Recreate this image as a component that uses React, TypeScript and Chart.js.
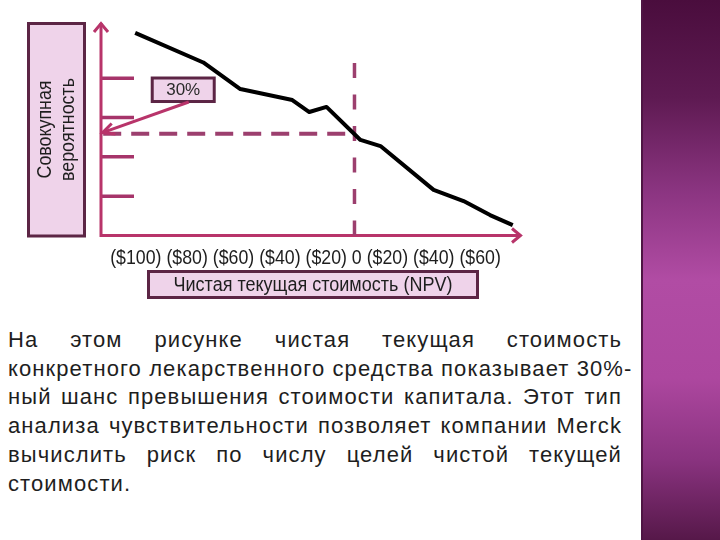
import { useEffect, useRef } from "react";
import { Chart, registerables } from "chart.js";

Chart.register(...registerables);

// ---- data ----
const npvTickLabels = ["($100)", "($80)", "($60)", "($40)", "($20)", "0", "($20)", "($40)", "($60)"];
const curveNpv = [-99.5, -68.6, -51.8, -28.2, -20.5, -12.7, 2.7, 11.8, 35.9, 49.5, 61.5, 71.8];
const curveProb = [103.1, 88.0, 74.5, 68.9, 62.8, 65.4, 48.6, 45.5, 23.2, 17.5, 10.4, 5.3];
const probTicks = [20, 40, 60, 80];
const hDashNpv = [-114, 0];
const hDashProb = [51.7, 51.7];
const vDashNpv = [0, 0];
const vDashProb = [0, 90.8];
const calloutFrom = [-75.2, 67.9];
const calloutTo = [-114.3, 52.3];
const calloutLabel = "30%";
const yTitleLines = ["Совокупная", "вероятность"];
const xTitle = "Чистая текущая стоимость (NPV)";
const paragraphLines = [
  "На этом рисунке чистая текущая стоимость",
  "конкретного лекарственного средства показывает 30%-",
  "ный шанс превышения стоимости капитала. Этот тип",
  "анализа чувствительности позволяет компании Merck",
  "вычислить риск по числу целей чистой текущей",
  "стоимости.",
];

const FONT = '"Liberation Sans", Arial, sans-serif';
const AXIS = "#b8346a";
const TICK = "#a6346a";
const DASH = "#9c3f6e";
const BOX_BORDER = "#5c2545";
const BOX_FILL = "#efd3ea";
const TEXT = "#1e1e1e";

function fitFont(ctx: CanvasRenderingContext2D, text: string, base: number, target: number) {
  ctx.font = `${base}px ${FONT}`;
  const w = ctx.measureText(text).width;
  return (base * target) / w;
}

function box(ctx: CanvasRenderingContext2D, x: number, y: number, w: number, h: number) {
  ctx.fillStyle = BOX_FILL;
  ctx.fillRect(x, y, w, h);
  ctx.strokeStyle = BOX_BORDER;
  ctx.lineWidth = 3;
  ctx.strokeRect(x, y, w, h);
}

function stretchedText(ctx: CanvasRenderingContext2D, text: string, cx: number, cy: number, sy: number) {
  ctx.save();
  ctx.translate(cx, cy);
  ctx.scale(1, sy);
  ctx.fillText(text, 0, 0);
  ctx.restore();
}

const decorPlugin = {
  id: "decor",
  beforeDatasetsDraw(chart: any) {
    const { ctx, chartArea: a, scales } = chart;
    const x = scales.x;
    const y = scales.y;
    ctx.save();

    // y title box
    box(ctx, 28.5, 23.5, 56, 212.5);
    ctx.fillStyle = TEXT;
    ctx.textAlign = "center";
    ctx.textBaseline = "middle";
    ctx.save();
    ctx.translate(56.5, 129.5);
    ctx.rotate(-Math.PI / 2);
    const fs = fitFont(ctx, yTitleLines[1], 16, 103);
    ctx.font = `${fs}px ${FONT}`;
    stretchedText(ctx, yTitleLines[0], 0, -11.5, 1.12);
    stretchedText(ctx, yTitleLines[1], 0, 11.5, 1.12);
    ctx.restore();

    // y tick marks
    ctx.strokeStyle = TICK;
    ctx.lineWidth = 3.5;
    ctx.lineCap = "butt";
    for (const v of probTicks) {
      const py = y.getPixelForValue(v);
      ctx.beginPath();
      ctx.moveTo(a.left, py);
      ctx.lineTo(a.left + 33, py);
      ctx.stroke();
    }

    // axes with arrows
    const x0 = x.getPixelForValue(x.min);
    const x1 = x.getPixelForValue(x.max);
    const y0 = y.getPixelForValue(y.min);
    const y1 = y.getPixelForValue(y.max);
    ctx.strokeStyle = AXIS;
    ctx.lineWidth = 3;
    ctx.beginPath();
    ctx.moveTo(x0, y0 + 1.5);
    ctx.lineTo(x0, y1 + 1);
    ctx.moveTo(x0 - 1.5, y0);
    ctx.lineTo(x1 - 1, y0);
    ctx.stroke();
    ctx.lineJoin = "miter";
    ctx.beginPath();
    ctx.moveTo(x0 - 7, y1 + 10);
    ctx.lineTo(x0, y1 + 1.5);
    ctx.lineTo(x0 + 7, y1 + 10);
    ctx.moveTo(x1 - 10, y0 - 7);
    ctx.lineTo(x1 - 1.5, y0);
    ctx.lineTo(x1 - 10, y0 + 7);
    ctx.stroke();

    // x tick labels line
    const line = npvTickLabels.join(" ");
    const lf = fitFont(ctx, line, 17, 391);
    ctx.font = `${lf}px ${FONT}`;
    ctx.fillStyle = TEXT;
    ctx.textAlign = "center";
    ctx.textBaseline = "alphabetic";
    stretchedText(ctx, line, 305.5, 263.5, 1.18);

    // x title box
    box(ctx, 148.5, 271.5, 329, 26);
    const tf = fitFont(ctx, xTitle, 16, 279);
    ctx.font = `${tf}px ${FONT}`;
    ctx.fillStyle = TEXT;
    ctx.textBaseline = "middle";
    stretchedText(ctx, xTitle, 313, 285, 1.15);

    ctx.restore();
  },
  afterDatasetsDraw(chart: any) {
    const { ctx, scales } = chart;
    const x = scales.x;
    const y = scales.y;
    ctx.save();
    const fx = x.getPixelForValue(calloutFrom[0]);
    const fy = y.getPixelForValue(calloutFrom[1]);
    const tx = x.getPixelForValue(calloutTo[0]);
    const ty = y.getPixelForValue(calloutTo[1]);
    // callout box
    box(ctx, fx - 36.5, fy - 24, 62, 23.5);
    ctx.font = `17px ${FONT}`;
    ctx.fillStyle = "#2a2a2a";
    ctx.textAlign = "center";
    ctx.textBaseline = "middle";
    ctx.fillText(calloutLabel, fx - 5.5, fy - 11.5);
    // arrow
    ctx.strokeStyle = AXIS;
    ctx.lineWidth = 3;
    ctx.lineCap = "butt";
    ctx.beginPath();
    ctx.moveTo(fx, fy);
    ctx.lineTo(tx, ty);
    ctx.stroke();
    const ang = Math.atan2(fy - ty, fx - tx);
    const L = 13;
    ctx.beginPath();
    ctx.moveTo(tx + L * Math.cos(ang + 0.45), ty + L * Math.sin(ang + 0.45));
    ctx.lineTo(tx, ty);
    ctx.lineTo(tx + L * Math.cos(ang - 0.45), ty + L * Math.sin(ang - 0.45));
    ctx.stroke();
    ctx.restore();
  },
};

function NpvChart() {
  const ref = useRef<HTMLCanvasElement | null>(null);
  useEffect(() => {
    if (!ref.current) return;
    const chart = new Chart(ref.current, {
      type: "line",
      data: {
        datasets: [
          {
            data: curveNpv.map((v, i) => ({ x: v, y: curveProb[i] })),
            borderColor: "#000000",
            borderWidth: 4,
            pointRadius: 0,
            tension: 0,
            fill: false,
            borderJoinStyle: "round",
          },
          {
            data: hDashNpv.map((v, i) => ({ x: v, y: hDashProb[i] })),
            borderColor: DASH,
            borderWidth: 4,
            borderDash: [18, 10],
            pointRadius: 0,
            fill: false,
          },
          {
            data: vDashNpv.map((v, i) => ({ x: v, y: vDashProb[i] })),
            borderColor: DASH,
            borderWidth: 3.5,
            borderDash: [15, 16.5],
            pointRadius: 0,
            fill: false,
          },
        ],
      },
      options: {
        animation: false,
        responsive: true,
        maintainAspectRatio: false,
        layout: { padding: { left: 101, right: 118, top: 22, bottom: 74.5 } },
        plugins: { legend: { display: false }, tooltip: { enabled: false } },
        scales: {
          x: { type: "linear", min: -115, max: 76, display: false },
          y: { type: "linear", min: 0, max: 108.6, display: false },
        },
      },
      plugins: [decorPlugin],
    } as any);
    return () => chart.destroy();
  }, []);
  return <canvas ref={ref} />;
}

export default function App() {
  return (
    <div style={{ position: "absolute", left: 0, top: 0, width: 720, height: 540, background: "#ffffff", overflow: "hidden" }}>
      <div style={{ position: "absolute", left: 0, top: 0, width: 640, height: 310 }}>
        <NpvChart />
      </div>
      <div
        style={{
          position: "absolute",
          left: 8,
          top: 326,
          width: 614,
          fontFamily: FONT,
          fontSize: 22,
          lineHeight: "28.7px",
          color: TEXT,
          letterSpacing: 1.1,
        }}
      >
        {paragraphLines.map((l, i) => (
          <div
            key={i}
            style={{
              textAlign: i === paragraphLines.length - 1 ? "left" : "justify",
              textAlignLast: i === paragraphLines.length - 1 ? "left" : "justify",
              whiteSpace: i === 1 ? "nowrap" : "normal",
            }}
          >
            {l}
          </div>
        ))}
      </div>
      <div
        style={{
          position: "absolute",
          left: 641,
          top: 0,
          width: 79,
          height: 540,
          background: "linear-gradient(180deg, #4a0d3d 0%, #5e1a52 18%, #8a3480 35%, #b14ca4 52%, #ad479f 70%, #8a3380 85%, #561849 100%)",
          borderLeft: "2px solid #4e1544",
          boxSizing: "border-box",
        }}
      />
    </div>
  );
}
